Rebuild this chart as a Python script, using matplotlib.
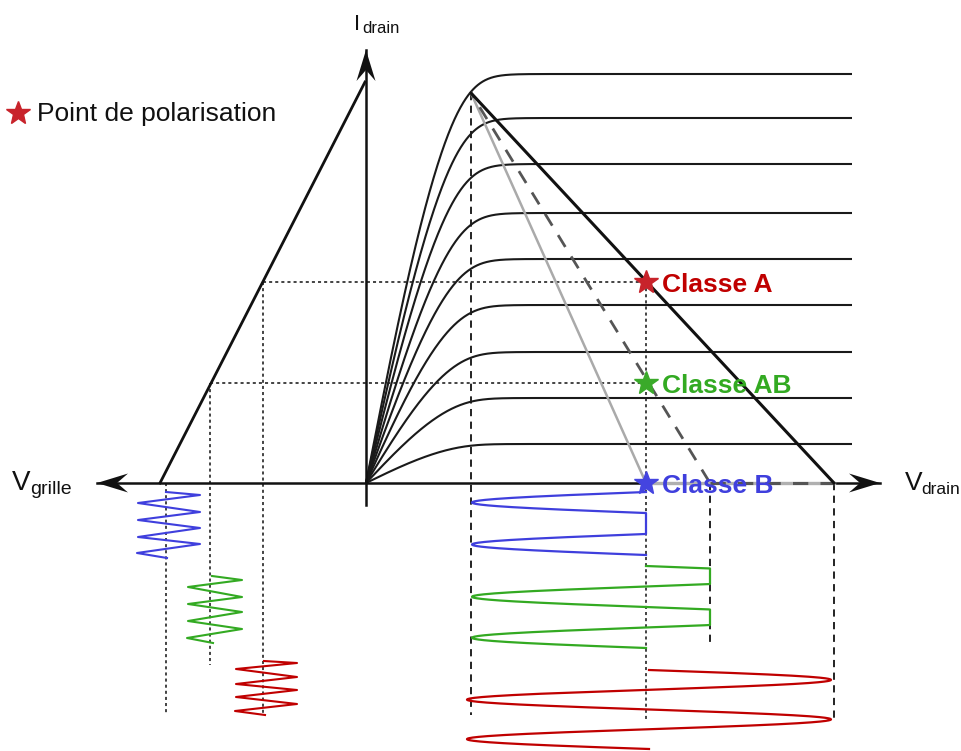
import numpy as np
import matplotlib
matplotlib.use('Agg')
import matplotlib.pyplot as plt
from matplotlib.patches import Polygon

plt.rcParams['font.family'] = ['Liberation Sans', 'DejaVu Sans']

# ---------------- data (diagram units: V to the right, I upwards, origin = 0,0) ----
plateau_currents = [409, 365, 319, 270, 224, 178, 131, 85, 39]
v_saturation = 126       # drain voltage at which the curves saturate
knee_softness = 8
v_plateau_end = 486
v_knee = 105
i_knee_top = 390

v_axis_range = [-269, 514]
i_axis_range = [-22, 433]

transfer_v = [-206, -1]
transfer_i = [0, 401]

class_names = ['Classe A', 'Classe AB', 'Classe B']
class_text_colors = ['#c00000', '#33aa22', '#3f3fdd']
class_star_colors = ['#c8232b', '#3aaa2a', '#4444e0']
bias_vd = [280, 280, 280]
bias_id = [201, 100, 0]
bias_vg = [-103, -156, -200]
loadline_end_vd = [468, 344, 280]

# input (grid) signals: zig-zag vertices
grid_x = {
    'Classe B':  [-200, -166, -228, -166, -228, -166, -228, -166, -229, -199],
    'Classe AB': [-154, -124, -178, -124, -178, -124, -178, -124, -179, -153],
    'Classe A':  [-102, -69, -130, -69, -130, -69, -130, -69, -131, -101],
}
grid_y = {
    'Classe B':  [-9, -12, -20, -29, -37, -45, -54, -61, -70, -75],
    'Classe AB': [-93, -97, -104, -114, -121, -129, -138, -146, -155, -160],
    'Classe A':  [-178, -180, -186, -194, -201, -207, -214, -221, -228, -232],
}
grid_dotted_end = {'Classe A': -232, 'Classe AB': -182, 'Classe B': -230}

# output (drain) signals: sine parameters
out_start = {'Classe A': -187, 'Classe AB': -83, 'Classe B': -9}
out_period = {'Classe A': 39.5, 'Classe AB': 41, 'Classe B': 42}
out_amp = {'Classe A': 182, 'Classe AB': 174, 'Classe B': 174}
out_center = {'Classe A': 283, 'Classe AB': 280, 'Classe B': 280}
out_clip = {'Classe A': None, 'Classe AB': 344, 'Classe B': 280}
out_dir = {'Classe A': 1, 'Classe AB': 1, 'Classe B': -1}
out_cycles = {'Classe A': 2, 'Classe AB': 2, 'Classe B': 1.5}

# vertical guide lines below the drain axis
knee_line_bottom = -232
drain_guides_v = [344, 468]
drain_guides_bottom = [-159, -237]
bias_guide_bottom = -239

# ---------------- figure ----------------
W, H = 961, 751
fig = plt.figure(figsize=(W / 100, H / 100), dpi=100)
ax = fig.add_axes([0, 0, 1, 1])
ax.set_xlim(-366, W - 366)
ax.set_ylim(483 - H, 483)
ax.axis('off')

black = '#111111'

# characteristic curves (smooth transition ohmic -> saturation)
v = np.linspace(0, v_plateau_end, 1000)
u = v / v_saturation
g = u / (1 + u ** knee_softness) ** (1 / knee_softness)
shape = np.sin(0.5 * np.pi * g)
for isat in plateau_currents:
    ax.plot(v, isat * shape, color='#1a1a1a', lw=1.5, zorder=3, solid_capstyle='butt')

# transfer characteristic
ax.plot(transfer_v, transfer_i, color=black, lw=2.0, zorder=3)

# guide lines (bias points)
for name, vg, idq, vd in zip(class_names, bias_vg, bias_id, bias_vd):
    if idq > 0:
        ax.plot([vg, vd], [idq, idq], color=black, lw=1.1, ls=(0, (2, 2)), zorder=2)
    ax.plot([vg, vg], [idq, grid_dotted_end[name]], color=black, lw=1.1,
            ls=(0, (2, 2)), zorder=2)

ax.plot([bias_vd[0], bias_vd[0]], [bias_id[0], bias_guide_bottom], color=black,
        lw=1.1, ls=(0, (2, 2)), zorder=2)
ax.plot([v_knee, v_knee], [i_knee_top, knee_line_bottom], color=black, lw=1.3,
        ls=(0, (4, 3)), zorder=2)
for gv, gb in zip(drain_guides_v, drain_guides_bottom):
    ax.plot([gv, gv], [0, gb], color=black, lw=1.3, ls=(0, (4, 3)), zorder=2)

# axes
ax.plot(v_axis_range, [0, 0], color=black, lw=1.8, zorder=4)
ax.plot([0, 0], i_axis_range, color=black, lw=1.8, zorder=4)


def arrow_head(tip, direction, length=31, half_w=9.5, notch=11):
    d = np.array(direction, float)
    d /= np.linalg.norm(d)
    n = np.array([-d[1], d[0]])
    tip = np.array(tip, float)
    back = tip - d * length
    pts = [tip, back + n * half_w, tip - d * (length - notch), back - n * half_w]
    ax.add_patch(Polygon(pts, closed=True, color=black, zorder=6, lw=0))


arrow_head((v_axis_range[0], 0), (-1, 0))
arrow_head((v_axis_range[1], 0), (1, 0))
arrow_head((0, i_axis_range[1]), (0, 1))

# load lines
ax.plot([bias_vd[2], loadline_end_vd[0]], [0, 0], color='#b0b0b0', lw=2.4, zorder=5)
ax.plot([v_knee, loadline_end_vd[2]], [i_knee_top, 0], color='#aaaaaa', lw=1.8, zorder=4)
ax.plot([v_knee, loadline_end_vd[1]], [i_knee_top, 0], color='#555555', lw=2.0,
        ls=(3, (5, 4)), zorder=4)
ax.plot([loadline_end_vd[1], loadline_end_vd[0]], [0, 0], color='#555555', lw=2.2,
        ls=(0, (5, 4)), zorder=5)
ax.plot([v_knee, loadline_end_vd[0]], [i_knee_top, 0], color=black, lw=2.2, zorder=5)

# input zig-zags and output waveforms
for name, col in zip(class_names, class_text_colors):
    ax.plot(grid_x[name], grid_y[name], color=col, lw=1.5, zorder=5)
    y0 = out_start[name]
    T = out_period[name]
    y = np.linspace(y0, y0 - out_cycles[name] * T, 600)
    x = out_center[name] + out_dir[name] * out_amp[name] * np.sin(2 * np.pi * (y0 - y) / T)
    if out_clip[name] is not None:
        x = np.minimum(x, out_clip[name])
    ax.plot(x, y, color=col, lw=1.6, zorder=5)

# bias stars + labels
for name, tcol, scol, vd, idq in zip(class_names, class_text_colors, class_star_colors,
                                     bias_vd, bias_id):
    ax.plot([vd], [idq], marker='*', ms=18, color=scol, mec=scol, zorder=8, ls='none')
    ax.text(vd + 16, idq - 3, name, color=tcol, fontsize=19, fontweight='bold',
            ha='left', va='center', zorder=9)

# legend
ax.plot([-348], [370], marker='*', ms=18, color='#c8232b', ls='none')
ax.text(-329, 369, 'Point de polarisation', fontsize=19, color=black,
        ha='left', va='center')

# axis labels
ax.text(-354, -7, 'V', fontsize=20, color=black, ha='left', va='baseline')
ax.text(-336, -11, 'grille', fontsize=14, color=black, ha='left', va='baseline')
ax.text(539, -7, 'V', fontsize=19, color=black, ha='left', va='baseline')
ax.text(555, -11, 'drain', fontsize=12.5, color=black, ha='left', va='baseline')
ax.text(-12, 453, 'I', fontsize=16, color=black, ha='left', va='baseline')
ax.text(-4, 450, 'drain', fontsize=12, color=black, ha='left', va='baseline')

fig.savefig('out.png', dpi=100)
